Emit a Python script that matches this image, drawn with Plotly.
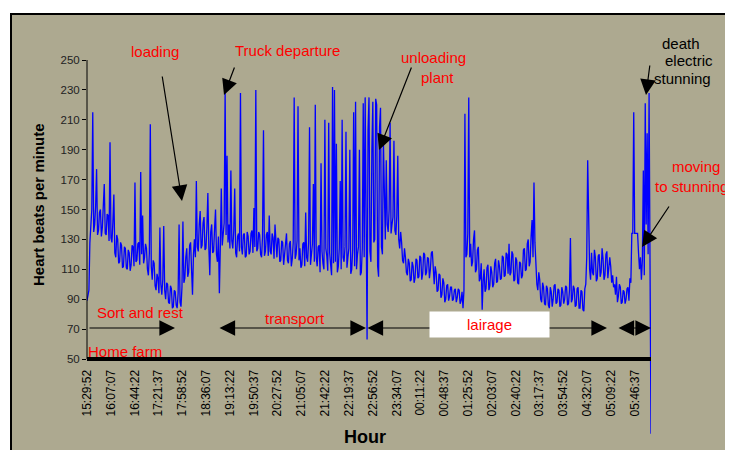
import plotly.graph_objects as go
import pandas as pd

# ---------------- data ----------------
start_time = "2000-01-01 15:29:52"
sample_seconds = 90

heart_rate = [
    89, 92, 96, 128, 142, 150, 215, 135, 140, 152, 177, 133, 136, 148, 150, 132, 138, 151, 167, 134,
    133, 147, 146, 129, 195, 131, 128, 142, 160, 121, 118, 133, 130, 114, 115, 128, 126, 111, 112, 125,
    124, 111, 110, 123, 121, 109, 113, 126, 125, 112, 168, 115, 116, 127, 128, 113, 175, 120, 146, 114,
    118, 127, 124, 110, 106, 121, 207, 112, 103, 116, 114, 99, 96, 107, 104, 94, 138, 100, 93, 103,
    139, 96, 90, 101, 100, 88, 87, 99, 97, 84, 85, 96, 95, 86, 84, 94, 140, 88, 85, 98,
    142, 101, 104, 118, 124, 105, 108, 126, 128, 110, 93, 120, 130, 118, 169, 125, 122, 140, 149, 124,
    126, 141, 145, 123, 124, 138, 161, 125, 106, 135, 140, 121, 122, 137, 150, 120, 115, 132, 94, 125,
    164, 126, 132, 141, 229, 133, 186, 128, 140, 124, 176, 129, 124, 136, 164, 121, 118, 132, 134, 122,
    228, 125, 120, 133, 134, 118, 119, 135, 132, 120, 122, 134, 136, 121, 151, 125, 230, 122, 124, 135,
    133, 120, 118, 132, 203, 119, 122, 133, 135, 119, 146, 122, 120, 134, 131, 117, 140, 124, 118, 131,
    130, 115, 116, 129, 128, 113, 121, 130, 134, 116, 114, 127, 129, 112, 117, 128, 225, 117, 120, 129,
    219, 116, 124, 111, 113, 127, 128, 112, 148, 118, 115, 128, 205, 113, 119, 127, 167, 115, 220, 118,
    112, 125, 126, 108, 181, 122, 114, 110, 210, 124, 119, 109, 208, 121, 113, 106, 232, 114, 230, 115,
    194, 108, 112, 124, 169, 110, 210, 118, 115, 125, 202, 111, 118, 124, 190, 107, 110, 123, 215, 112,
    222, 110, 120, 125, 190, 106, 108, 124, 221, 118, 225, 140, 63, 203, 225, 122, 115, 190, 222, 128,
    130, 224, 220, 112, 105, 205, 218, 125, 120, 196, 150, 130, 183, 140, 135, 150, 208, 134, 140, 145,
    196, 136, 133, 146, 186, 130, 124, 135, 128, 116, 114, 124, 118, 108, 106, 117, 114, 102, 103, 115,
    112, 101, 104, 117, 116, 104, 105, 119, 118, 103, 107, 121, 120, 106, 108, 118, 117, 104, 110, 121,
    122, 104, 100, 112, 108, 95, 96, 107, 106, 91, 93, 104, 101, 88, 90, 99, 100, 89, 92, 98,
    98, 89, 90, 96, 97, 88, 91, 97, 96, 87, 89, 95, 84, 96, 214, 118, 120, 134, 225, 118,
    127, 112, 115, 130, 136, 108, 110, 123, 125, 102, 104, 114, 83, 102, 110, 95, 97, 111, 113, 96,
    99, 112, 108, 98, 100, 114, 117, 101, 102, 116, 112, 103, 104, 119, 118, 105, 106, 121, 120, 107,
    127, 106, 108, 122, 120, 102, 103, 118, 116, 101, 100, 115, 114, 104, 106, 123, 124, 109, 110, 127,
    130, 112, 115, 132, 143, 118, 168, 128, 112, 100, 96, 108, 103, 90, 88, 101, 98, 87, 86, 99,
    97, 86, 84, 98, 95, 85, 90, 99, 100, 87, 88, 97, 96, 85, 86, 98, 95, 87, 90, 99,
    98, 86, 87, 96, 131, 88, 90, 99, 97, 85, 86, 97, 98, 84, 84, 96, 95, 83, 82, 97,
    100, 118, 183, 124, 110, 103, 121, 108, 106, 123, 118, 102, 104, 119, 120, 105, 108, 124, 117, 103,
    106, 120, 122, 104, 110, 118, 112, 101, 106, 98, 100, 93, 105, 88, 92, 100, 98, 87, 88, 96,
    95, 87, 90, 97, 98, 89, 104, 101, 134, 134, 215, 134, 134, 134, 134, 121, 110, 118, 103, 116,
    176, 106, 221, 140, 201, 120, 228, 112, 0,
]

tick_labels = [
    "15:29:52", "16:07:07", "16:44:22", "17:21:37", "17:58:52", "18:36:07",
    "19:13:22", "19:50:37", "20:27:52", "21:05:07", "21:42:22", "22:19:37",
    "22:56:52", "23:34:07", "00:11:22", "00:48:37", "01:25:52", "02:03:07",
    "02:40:22", "03:17:37", "03:54:52", "04:32:07", "05:09:22", "05:46:37",
]
y_ticks = [50, 70, 90, 110, 130, 150, 170, 190, 210, 230, 250]

# ---------------- build ----------------
times = pd.date_range(start=start_time, periods=len(heart_rate), freq=f"{sample_seconds}s")

t0 = pd.Timestamp(start_time)
tick_vals = []
for lab in tick_labels:
    t = pd.Timestamp(t0.strftime("%Y-%m-%d") + " " + lab)
    if t < t0:
        t += pd.Timedelta(days=1)
    tick_vals.append(t)

W, H = 733, 450
OFF = 8                      # page body margin
PLOT_L, PLOT_R = 87, 651     # target screen pixels
PLOT_T, PLOT_B = 60, 435
AXIS_Y = 359

ML = PLOT_L - OFF
MT = PLOT_T - OFF
PW = PLOT_R - PLOT_L
PH = PLOT_B - PLOT_T
MR = W - ML - PW
MB = H - MT - PH


def px_x(p):
    return (p - PLOT_L) / PW


def px_y(p):
    return (PLOT_B - p) / PH


axis_pos = px_y(AXIS_Y)
scale = (AXIS_Y - PLOT_T) / (250 - 50)  # px per bpm
y_low = 250 - PH / scale

FONT = "Arial, Liberation Sans, sans-serif"
RED = "#FF0000"

fig = go.Figure()
fig.add_trace(go.Scatter(
    x=times, y=heart_rate, mode="lines",
    line=dict(color="#0000FF", width=1.3),
    hoverinfo="skip", showlegend=False,
))

annotations = []


def text(t, x, y, color=RED, size=15, bold=False, angle=0, **kw):
    if bold:
        t = "<b>" + t + "</b>"
    d = dict(text=t, x=px_x(x), y=px_y(y), xref="paper", yref="paper",
             showarrow=False, font=dict(family=FONT, size=size, color=color),
             xanchor="center", yanchor="middle", textangle=angle)
    d.update(kw)
    annotations.append(d)


def arrow(tip, tail, both=False):
    d = dict(text="", x=px_x(tip[0]), y=px_y(tip[1]), xref="paper", yref="paper",
             ax=tail[0] - tip[0], ay=tail[1] - tip[1], axref="pixel", ayref="pixel",
             showarrow=True, arrowhead=2, arrowsize=2.6, arrowwidth=1.2,
             arrowcolor="black", standoff=0, startstandoff=0)
    if both:
        d.update(arrowside="end+start", startarrowhead=2, startarrowsize=2.6)
    annotations.append(d)


# event labels
text("loading", 155, 52)
text("Truck departure", 287, 51)
text("unloading", 433, 58)
text("plant", 437, 77)
text("death", 681, 43, color="black")
text("electric", 689, 60, color="black")
text("stunning", 682, 78, color="black")
text("moving", 696, 166)
text("to stunning", 691, 186)
text("Sort and rest", 140, 312)
text("transport", 295, 318)
text("Home farm", 125, 351)

# pointer arrows
arrow((182, 201), (162, 75))
arrow((224, 95), (235, 66))
arrow((379, 150), (412, 66))
arrow((646, 95), (650, 64))
arrow((642, 247), (670, 205))

# phase arrows
arrow((175, 328), (88, 328))
arrow((366, 328), (218, 328), both=True)
arrow((607, 328), (366, 328), both=True)
arrow((651, 328), (617, 328), both=True)

text("lairage", 490, 324, bgcolor="white", width=115, height=21, borderpad=2)

# axis titles
text("Heart beats per minute", 38, 205, color="black", bold=True, angle=-90)
text("Hour", 365, 437, color="black", size=18, bold=True)

shapes = [
    dict(type="rect", xref="paper", yref="paper",
         x0=px_x(11), x1=px_x(760), y0=px_y(14), y1=px_y(480),
         fillcolor="#ADA990", line=dict(color="black", width=2), layer="below"),
    dict(type="line", xref="paper", yref="paper",
         x0=0, x1=0, y0=axis_pos, y1=1, line=dict(color="black", width=1)),
]

fig.update_layout(
    width=W, height=H, autosize=False,
    margin=dict(l=ML, r=MR, t=MT, b=MB, pad=0, autoexpand=False),
    paper_bgcolor="white", plot_bgcolor="rgba(0,0,0,0)",
    showlegend=False,
    shapes=shapes,
    annotations=annotations,
    xaxis=dict(
        type="date", domain=[0, 1], anchor="free", position=axis_pos,
        range=[times[0], times[-1]], automargin=False,
        showline=True, linewidth=4, linecolor="black",
        showgrid=False, zeroline=False,
        tickmode="array", tickvals=tick_vals, ticktext=tick_labels,
        tickangle=-90, ticks="", ticklabelstandoff=4,
        tickfont=dict(family=FONT, size=12, color="black"),
    ),
    yaxis=dict(
        domain=[0, 1], range=[y_low, 250], automargin=False,
        tickmode="array", tickvals=y_ticks,
        ticks="outside", ticklen=4, tickcolor="black", tickwidth=1,
        showline=False, showgrid=False, zeroline=False,
        tickfont=dict(family=FONT, size=11.5, color="#222"),
    ),
)

fig.write_html("out.html")
